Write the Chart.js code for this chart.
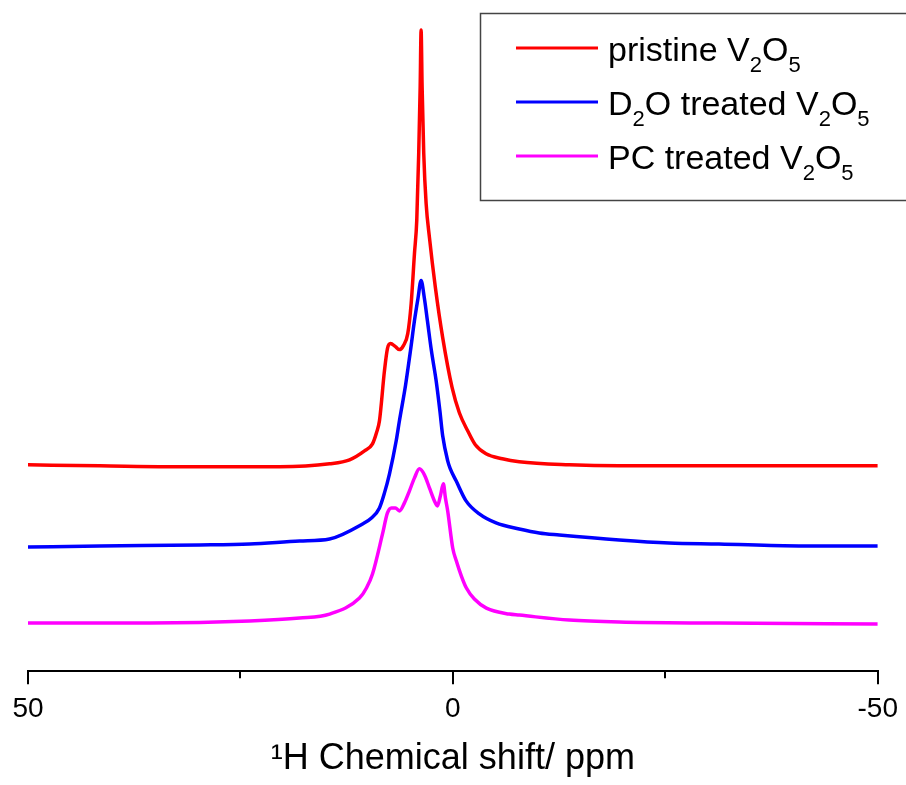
<!DOCTYPE html>
<html>
<head>
<meta charset="utf-8">
<title>1H NMR V2O5</title>
<script src="https://cdn.jsdelivr.net/npm/chart.js@4.4.1/dist/chart.umd.min.js"></script>
<style>
  html, body { margin: 0; padding: 0; background: #fff; }
  #wrap { position: relative; width: 906px; height: 785px; }
</style>
</head>
<body>
<div id="wrap"><canvas id="nmrChart"></canvas></div>
<script>
// Chemical shift (ppm) and intensity (arbitrary units, stacked offsets as plotted)
var pristinePpm = [50.00, 41.54, 29.79, 20.39, 14.51, 12.16, 10.40, 9.46, 8.99, 8.64, 8.05, 7.70, 7.34, 6.76, 6.29, 5.82, 5.31, 4.91, 4.52, 4.25, 4.02, 3.85, 3.74, 3.62, 3.43, 3.15, 2.76, 2.06, 1.20, 0.09, -0.76, -1.74, -2.64, -3.90, -5.82, -7.81, -13.69, -19.57, -28.97, -40.72, -50.00];
var pristineInt = [206, 205, 204, 204, 207, 211, 220, 227, 238, 250, 300, 322, 327, 324, 321, 325, 337, 367, 417, 450, 517, 583, 640, 583, 517, 467, 433, 383, 333, 283, 258, 240, 226, 217, 212, 209, 206, 205, 205, 205, 205];

var d2oPpm = [50.00, 41.54, 29.79, 23.91, 18.04, 14.51, 10.63, 9.58, 8.64, 8.05, 7.46, 6.67, 6.29, 5.58, 4.99, 4.52, 4.11, 3.74, 3.35, 3.00, 2.53, 1.97, 1.53, 1.20, 0.61, 0.30, -0.38, -1.55, -3.11, -5.08, -7.81, -10.16, -12.52, -19.57, -25.44, -31.32, -40.72, -50.00];
var d2oInt = [124, 125, 126, 127, 130, 132, 147, 153, 163, 178, 197, 230, 250, 285, 320, 350, 372, 390, 372, 350, 320, 290, 260, 235, 210, 202, 190, 170, 157, 148, 142, 138, 136, 131, 128, 127, 125, 125];

var pcPpm = [50.00, 35.66, 23.91, 18.04, 14.51, 10.99, 10.17, 9.46, 8.28, 7.70, 7.23, 6.76, 6.29, 5.70, 5.11, 4.52, 3.94, 3.35, 2.76, 2.17, 1.82, 1.47, 1.12, 0.88, 0.61, 0.02, -0.41, -1.00, -1.59, -2.53, -3.94, -6.64, -7.81, -13.69, -19.57, -31.32, -50.00];
var pcInt = [48, 48, 50, 53, 57, 73, 83, 97, 137, 158, 163, 163, 160, 168, 180, 193, 202, 196, 183, 170, 165, 175, 187, 173, 160, 123, 110, 95, 83, 72, 63, 57, 56, 51, 49, 48, 47];

var seriesLabels = ['pristine V₂O₅', 'D₂O treated V₂O₅', 'PC treated V₂O₅'];
var seriesColors = ['#ff0000', '#0000ff', '#ff00ff'];
var xTicks = [50, 0, -50];
var xMinorTicks = [25, -25];

var FONT = "'Liberation Sans', Arial, sans-serif";

function toPoints(xs, ys) {
    return xs.map(function (x, i) { return { x: x, y: ys[i] }; });
}

// Minor ticks at +/-25 ppm (shorter than the labelled ones)
var minorTicks = {
    id: 'minorTicks',
    afterDraw: function (chart) {
        var ctx = chart.ctx;
        var scale = chart.scales.x;
        var bottom = chart.chartArea.bottom;
        ctx.save();
        ctx.strokeStyle = '#000';
        ctx.lineWidth = 2;
        xMinorTicks.forEach(function (v) {
            var px = Math.round(scale.getPixelForValue(v));
            ctx.beginPath();
            ctx.moveTo(px, bottom);
            ctx.lineTo(px, bottom + 7);
            ctx.stroke();
        });
        ctx.restore();
    }
};

// Boxed legend with subscript digits
var subLegend = {
    id: 'subLegend',
    afterDraw: function (chart) {
        var ctx = chart.ctx;
        var subMap = { '₂': '2', '₅': '5' };
        ctx.save();
        ctx.strokeStyle = '#444';
        ctx.lineWidth = 1.5;
        ctx.strokeRect(480.5, 13.5, 440, 187);
        chart.data.datasets.forEach(function (ds, i) {
            var base = 61 + i * 54;
            ctx.strokeStyle = ds.borderColor;
            ctx.lineWidth = 3;
            ctx.beginPath();
            ctx.moveTo(516, base - 13);
            ctx.lineTo(598, base - 13);
            ctx.stroke();
            var x = 608;
            ctx.fillStyle = '#000';
            ctx.textBaseline = 'alphabetic';
            ctx.textAlign = 'left';
            Array.from(ds.label).forEach(function (ch) {
                if (subMap[ch]) {
                    ctx.font = '22px ' + FONT;
                    ctx.fillText(subMap[ch], x, base + 11);
                    x += ctx.measureText(subMap[ch]).width;
                } else {
                    ctx.font = '34px ' + FONT;
                    ctx.fillText(ch, x, base);
                    x += ctx.measureText(ch).width;
                }
            });
        });
        ctx.restore();
    }
};

var ctx = document.getElementById('nmrChart').getContext('2d');
new Chart(ctx, {
    type: 'line',
    data: {
        datasets: [
            { label: seriesLabels[0], data: toPoints(pristinePpm, pristineInt), borderColor: seriesColors[0] },
            { label: seriesLabels[1], data: toPoints(d2oPpm, d2oInt), borderColor: seriesColors[1] },
            { label: seriesLabels[2], data: toPoints(pcPpm, pcInt), borderColor: seriesColors[2] }
        ]
    },
    options: {
        responsive: true,
        maintainAspectRatio: false,
        animation: false,
        layout: { padding: { top: 10, left: 28, right: 27, bottom: 0 } },
        elements: {
            point: { radius: 0 },
            line: { borderWidth: 3.5, cubicInterpolationMode: 'monotone', fill: false }
        },
        plugins: {
            legend: { display: false },
            tooltip: { enabled: false }
        },
        scales: {
            x: {
                type: 'linear',
                reverse: true,
                min: -50,
                max: 50,
                afterBuildTicks: function (scale) {
                    scale.ticks = xTicks.map(function (v) { return { value: v }; });
                },
                border: { display: true, color: '#000', width: 2 },
                grid: { display: true, drawOnChartArea: false, drawTicks: true, tickLength: 13, color: '#000', lineWidth: 2 },
                ticks: {
                    color: '#000',
                    padding: 8,
                    maxRotation: 0,
                    font: { family: FONT, size: 28 }
                },
                title: {
                    display: true,
                    text: '¹H Chemical shift/ ppm',
                    color: '#000',
                    font: { family: FONT, size: 36 },
                    padding: { top: 4, bottom: 4 }
                }
            },
            y: {
                display: false,
                min: 0,
                max: 660
            }
        }
    },
    plugins: [minorTicks, subLegend]
});
</script>
</body>
</html>
